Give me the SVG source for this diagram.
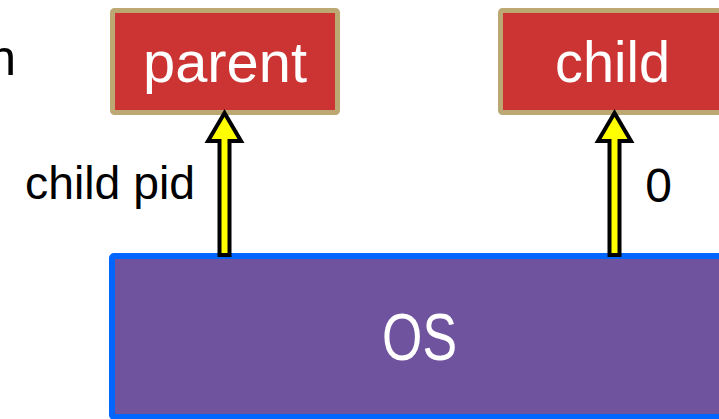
<svg xmlns="http://www.w3.org/2000/svg" width="719" height="419" viewBox="0 0 719 419">
  <defs>
    <style>
      .lbl { font-family: "Liberation Sans", Arial, sans-serif; }
      .box { fill: #CC3333; stroke: #BBA873; stroke-width: 5; }
      .os { fill: #70539E; stroke: #0066FF; stroke-width: 6; }
      .arrow { fill: #FFFF00; stroke: #000000; stroke-width: 4; stroke-linejoin: miter; }
      .white { fill: #FFFFFF; }
      .black { fill: #000000; }
    </style>
  </defs>
  <rect width="719" height="419" fill="#FFFFFF"/>
  <text class="lbl black" x="16" y="75" font-size="50" text-anchor="end">n</text>
  <g id="os">
    <rect class="os" x="112" y="256" width="640" height="161" rx="2"/>
    <text class="lbl white" x="419.5" y="360" font-size="66" text-anchor="middle" textLength="75" lengthAdjust="spacingAndGlyphs">OS</text>
  </g>
  <g id="parent">
    <rect class="box" x="112.5" y="10.5" width="225" height="102" rx="2"/>
    <text class="lbl white" x="225" y="82" font-size="58" text-anchor="middle" textLength="164" lengthAdjust="spacingAndGlyphs">parent</text>
  </g>
  <g id="child">
    <rect class="box" x="500.5" y="10.5" width="240" height="102" rx="2"/>
    <text class="lbl white" x="612.5" y="82" font-size="58" text-anchor="middle" textLength="115" lengthAdjust="spacingAndGlyphs">child</text>
  </g>
  <g id="connectors">
    <polygon class="arrow" points="224.5,113 208,141 219.5,141 219.5,255 229.5,255 229.5,141 241,141"/>
    <polygon class="arrow" points="614.5,113 598,141 609.5,141 609.5,255 619.5,255 619.5,141 631,141"/>
    <text class="lbl black" x="25" y="199" font-size="46" textLength="170" lengthAdjust="spacingAndGlyphs">child pid</text>
    <text class="lbl black" x="658.5" y="202" font-size="48" text-anchor="middle">0</text>
  </g>
</svg>
